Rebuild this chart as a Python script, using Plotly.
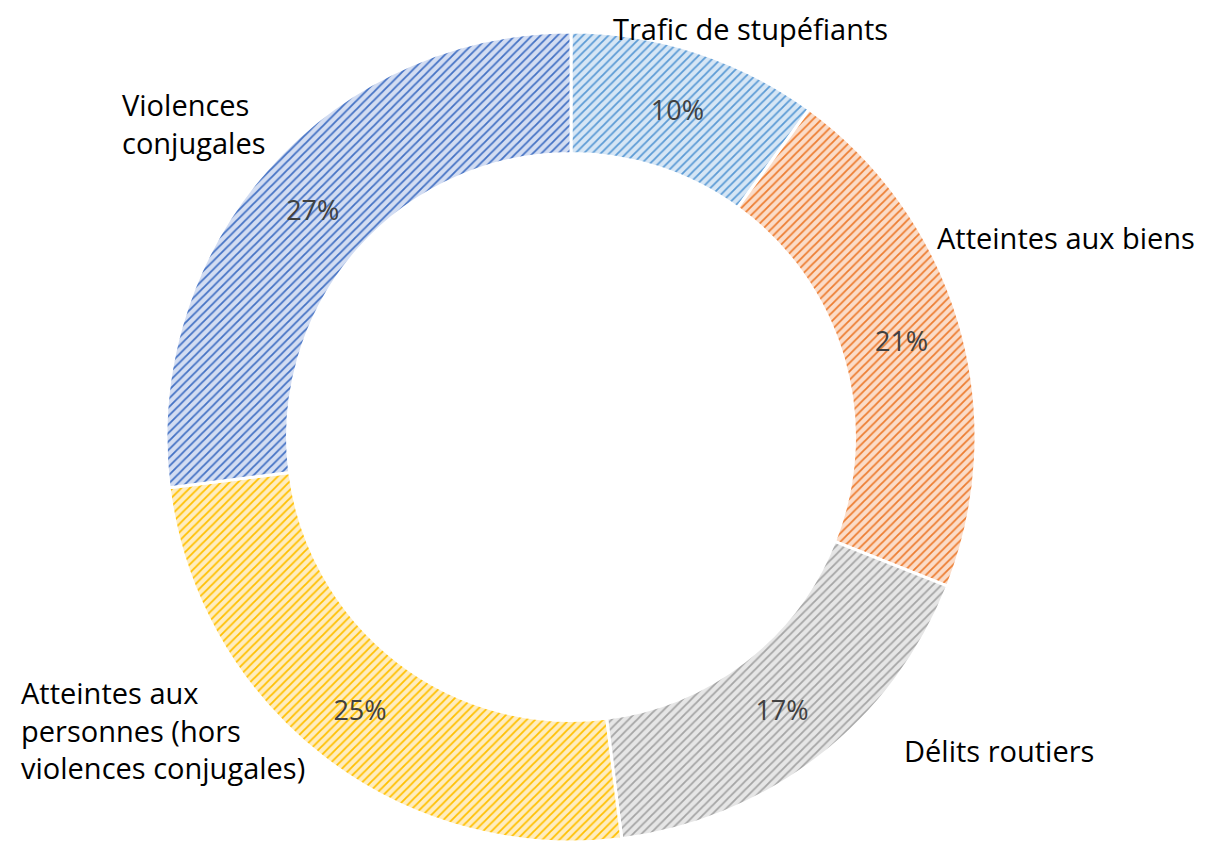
import plotly.graph_objects as go

# données (ordre horaire depuis midi)
categories = ["Trafic de stupéfiants", "Atteintes aux biens", "Délits routiers",
              "Atteintes aux personnes (hors violences conjugales)", "Violences conjugales"]
parts = [10, 21, 17, 25, 27]

line_colors = ["#5B9BD5", "#ED7D31", "#A5A5A5", "#FFC000", "#4472C4"]
fill_colors = ["#D6E6F5", "#FBDCC8", "#E6E6E6", "#FFEDBF", "#D3DDF2"]

W, H = 1217, 844
OFF = 8  # marge du body de la page

cx, cy, r = 571 - OFF, 437 - OFF, 405

fig = go.Figure(go.Pie(
    labels=categories,
    values=parts,
    hole=0.70,
    sort=False,
    direction="clockwise",
    rotation=0,
    texttemplate="%{value}%",
    textposition="inside",
    insidetextorientation="horizontal",
    textfont=dict(family="Open Sans", size=27, color="#404040"),
    marker=dict(
        colors=fill_colors,
        line=dict(color="white", width=3),
        pattern=dict(shape="/", fgcolor=line_colors, bgcolor=fill_colors,
                     size=6, solidity=0.3, fillmode="replace"),
    ),
    showlegend=False,
    domain=dict(x=[(cx - r) / W, (cx + r) / W],
                y=[(H - cy - r) / H, (H - cy + r) / H]),
))

# étiquettes des catégories
labels_txt = [
    ("Trafic de stupéfiants", 750, None, "center"),
    ("Atteintes aux biens", 936, 237, "left"),
    ("Délits routiers", 903, 750, "left"),
    ("Atteintes aux<br>personnes (hors<br>violences conjugales)", 20, 730, "left"),
    ("Violences<br>conjugales", 121, 124, "left"),
]
for txt, px_, py_, anchor in labels_txt:
    if py_ is None:
        y, ya = 1, "top"
    else:
        y, ya = 1 - (py_ - OFF) / H, "middle"
    fig.add_annotation(text=txt, x=(px_ - OFF) / W, y=y,
                       xref="paper", yref="paper", align="left",
                       xanchor=anchor, yanchor=ya, showarrow=False, borderpad=0,
                       font=dict(family="Open Sans", size=29, color="#000000"))

fig.update_layout(width=W, height=H, margin=dict(l=0, r=0, t=0, b=0),
                  paper_bgcolor="white", plot_bgcolor="white")

fig.write_html("out.html")
